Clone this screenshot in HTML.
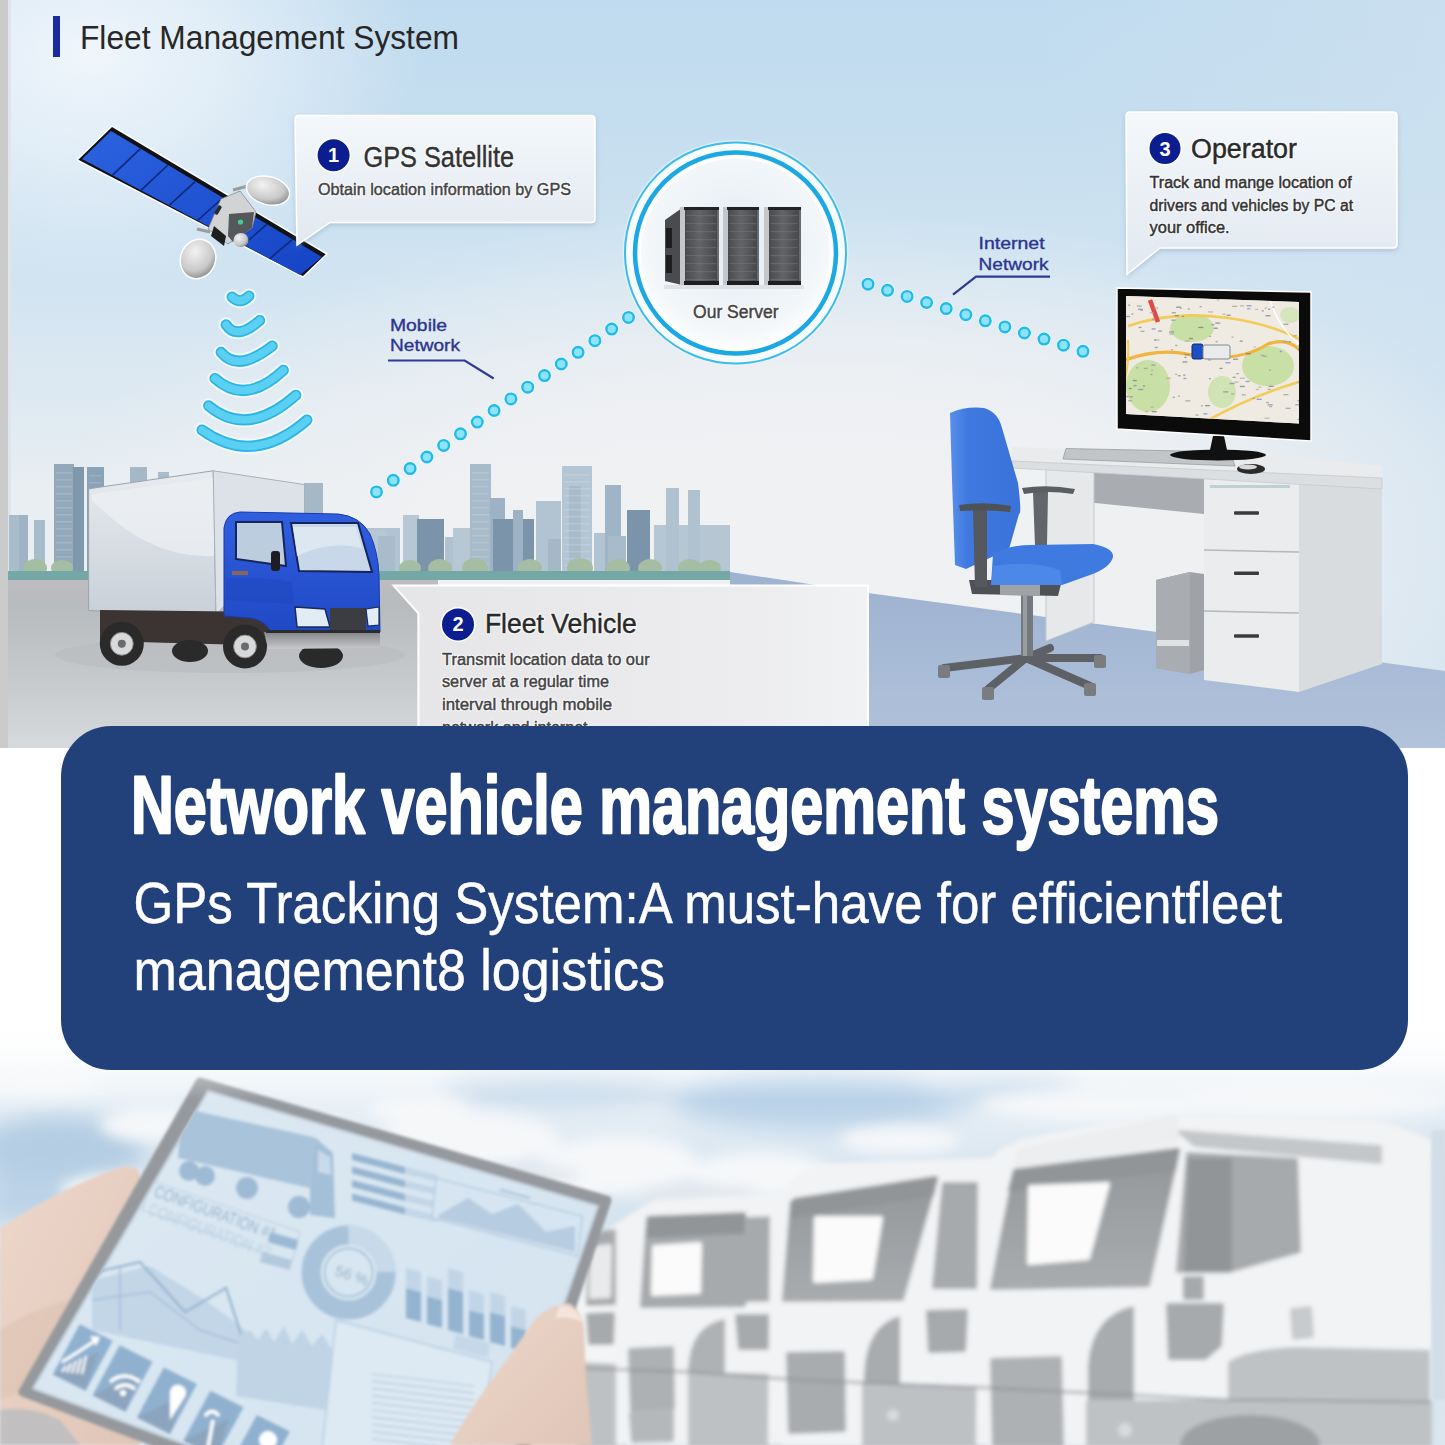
<!DOCTYPE html>
<html><head><meta charset="utf-8"><title>Network vehicle management systems</title>
<style>
html,body{margin:0;padding:0}
body{width:1445px;height:1445px;position:relative;overflow:hidden;background:#fff;font-family:"Liberation Sans",sans-serif}
svg text{font-family:"Liberation Sans",sans-serif}
.abs{position:absolute}
#top{left:0;top:0;width:1445px;height:748px;overflow:hidden;
 background:radial-gradient(ellipse 330px 230px at 90px 55px,rgba(242,247,252,0.95) 0%,rgba(242,247,252,0.6) 45%,rgba(242,247,252,0) 100%),
 radial-gradient(ellipse 760px 330px at 800px 540px,rgba(240,241,243,1) 0%,rgba(240,241,243,0.85) 50%,rgba(240,241,243,0) 100%),
 linear-gradient(90deg,rgba(205,225,240,0) 72%,rgba(205,225,240,0.75) 100%),
 linear-gradient(180deg,#c0dbef 0%,#c4ddef 15%,#cfe3f1 35%,#dde9f2 52%,#e8eef2 65%,#edf0f2 100%)}
</style></head><body>
<div id="bot"><svg class="abs" style="left:0;top:1000px" width="1445" height="445" viewBox="0 1000 1445 445">
<defs>
<linearGradient id="gSky" x1="0" y1="0" x2="0" y2="1"><stop offset="0" stop-color="#ffffff"/><stop offset="0.15" stop-color="#f3f7fa"/><stop offset="0.35" stop-color="#dbe7f1"/><stop offset="0.6" stop-color="#d3e2ee"/><stop offset="1" stop-color="#dce6ee"/></linearGradient>
<linearGradient id="gFade" x1="0" y1="0" x2="0" y2="1"><stop offset="0" stop-color="#ffffff" stop-opacity="1"/><stop offset="0.3" stop-color="#ffffff" stop-opacity="0.95"/><stop offset="0.65" stop-color="#ffffff" stop-opacity="0.45"/><stop offset="1" stop-color="#ffffff" stop-opacity="0"/></linearGradient>
<filter id="b6" x="-30%" y="-30%" width="160%" height="160%"><feGaussianBlur stdDeviation="7"/></filter>
<filter id="b12" x="-30%" y="-30%" width="160%" height="160%"><feGaussianBlur stdDeviation="12"/></filter>
<filter id="b2" x="-10%" y="-10%" width="120%" height="120%"><feGaussianBlur stdDeviation="1.4"/></filter>
<filter id="b3" x="-10%" y="-10%" width="120%" height="120%"><feGaussianBlur stdDeviation="2.2"/></filter>
<linearGradient id="gSkin" x1="0" y1="0" x2="1" y2="1"><stop offset="0" stop-color="#edd7cb"/><stop offset="1" stop-color="#dfc5b6"/></linearGradient>
<linearGradient id="gScreen" x1="0" y1="0" x2="1" y2="1"><stop offset="0" stop-color="#dde9f3"/><stop offset="1" stop-color="#d2e2ef"/></linearGradient>
<linearGradient id="gWind" x1="0" y1="0" x2="0" y2="1"><stop offset="0" stop-color="#94979a"/><stop offset="1" stop-color="#a9acaf"/></linearGradient>
</defs>
<rect x="0" y="1000" width="1445" height="445" fill="url(#gSky)"/>
<g filter="url(#b12)">
<ellipse cx="60" cy="1150" rx="85" ry="35" fill="#b4cde3"/>
<ellipse cx="30" cy="1200" rx="50" ry="25" fill="#bcd3e7"/>
<ellipse cx="230" cy="1160" rx="50" ry="25" fill="#c8dbeb"/>
<ellipse cx="560" cy="1090" rx="120" ry="16" fill="#c6d9ea"/>
<ellipse cx="820" cy="1100" rx="150" ry="30" fill="#bad2e8"/>
<ellipse cx="1000" cy="1090" rx="80" ry="15" fill="#c9dcec"/>
<ellipse cx="1440" cy="1220" rx="16" ry="90" fill="#c9d8e5"/>
</g>
<g filter="url(#b6)" fill="#f5f7f9">
<ellipse cx="40" cy="1085" rx="60" ry="14"/>
<ellipse cx="150" cy="1125" rx="50" ry="16"/>
<ellipse cx="120" cy="1190" rx="60" ry="16"/>
<ellipse cx="40" cy="1240" rx="40" ry="14"/>
<ellipse cx="300" cy="1140" rx="60" ry="22"/>
<ellipse cx="470" cy="1140" rx="90" ry="28"/>
<ellipse cx="620" cy="1165" rx="80" ry="30"/>
<ellipse cx="760" cy="1175" rx="70" ry="24"/>
<ellipse cx="540" cy="1200" rx="60" ry="20"/>
<ellipse cx="900" cy="1140" rx="60" ry="14"/>
<ellipse cx="1100" cy="1105" rx="120" ry="16"/>
<ellipse cx="1300" cy="1100" rx="150" ry="18"/>
<ellipse cx="420" cy="1110" rx="50" ry="16"/>
</g>
<g filter="url(#b6)" fill="#e3e8ed">
<ellipse cx="520" cy="1175" rx="60" ry="10"/>
<ellipse cx="700" cy="1195" rx="60" ry="10"/>
<ellipse cx="250" cy="1170" rx="40" ry="10"/>
</g>
<g filter="url(#b3)">
<polygon points="572,1248 600,1232 640,1214 655,1203 809,1196 818,1166 1010,1159 1020,1150 1100,1128 1175,1116 1380,1121 1432,1140 1432,1445 572,1445" fill="#f3f4f5"/>
<polygon points="590,1238 606,1232 641,1230 641,1302 588,1304" fill="#a7aaad" stroke="#a7aaad" stroke-width="4" stroke-linejoin="round"/>
<polygon points="592,1248 610,1246 609,1296 591,1297" fill="#e9eaeb" stroke="#e9eaeb" stroke-width="4" stroke-linejoin="round"/>
<polygon points="588,1315 613,1314 612,1343 590,1343" fill="#a7aaad" stroke="#a7aaad" stroke-width="4" stroke-linejoin="round"/>
<polygon points="578,1364 625,1366 625,1445 578,1445" fill="#bec1c4" stroke="#bec1c4" stroke-width="4" stroke-linejoin="round"/>
<polygon points="616,1224 640,1208 655,1200 812,1192 815,1445 616,1445" fill="#f2f3f4"/>
<polygon points="655,1203 809,1196 810,1210 651,1218" fill="#f2f3f4" stroke="#f2f3f4" stroke-width="4" stroke-linejoin="round"/>
<polygon points="648,1218 744,1214 744,1305 642,1306" fill="#a7aaad" stroke="#a7aaad" stroke-width="4" stroke-linejoin="round"/>
<polygon points="650,1218 744,1215 744,1232 648,1236" fill="#929598" stroke="#929598" stroke-width="4" stroke-linejoin="round"/>
<polygon points="654,1247 700,1244 699,1292 653,1294" fill="#fbfbfb" stroke="#fbfbfb" stroke-width="4" stroke-linejoin="round"/>
<polygon points="747,1219 806,1217 806,1299 744,1300" fill="#a7aaad" stroke="#a7aaad" stroke-width="4" stroke-linejoin="round"/>
<polygon points="737,1316 769,1316 767,1348 740,1348" fill="#a7aaad" stroke="#a7aaad" stroke-width="4" stroke-linejoin="round"/>
<polygon points="630,1350 672,1348 673,1408 632,1410" fill="#aeb1b4" stroke="#aeb1b4" stroke-width="4" stroke-linejoin="round"/>
<polygon points="631,1414 672,1412 672,1440 633,1441" fill="#b5b8bb" stroke="#b5b8bb" stroke-width="4" stroke-linejoin="round"/>
<path d="M725,1319 Q690,1325 688,1370 L688,1445 L725,1445 Z" fill="#afb2b5"/>
<polygon points="690,1374 780,1376 780,1445 690,1445" fill="#bec1c4" stroke="#bec1c4" stroke-width="4" stroke-linejoin="round"/>
<polygon points="770,1205 790,1180 818,1164 1012,1157 1014,1445 768,1445" fill="#f2f3f4"/>
<polygon points="818,1166 1010,1159 1012,1178 814,1190" fill="#f2f3f4" stroke="#f2f3f4" stroke-width="4" stroke-linejoin="round"/>
<polygon points="792,1202 936,1178 902,1299 784,1300" fill="url(#gWind)" stroke="url(#gWind)" stroke-width="4" stroke-linejoin="round"/>
<polygon points="795,1200 936,1178 932,1195 792,1216" fill="#929598" stroke="#929598" stroke-width="4" stroke-linejoin="round"/>
<polygon points="816,1218 881,1218 871,1278 815,1281" fill="#fbfbfb" stroke="#fbfbfb" stroke-width="4" stroke-linejoin="round"/>
<polygon points="944,1184 1010,1184 1010,1287 934,1287" fill="#a7aaad" stroke="#a7aaad" stroke-width="4" stroke-linejoin="round"/>
<polygon points="928,1312 966,1311 964,1350 930,1351" fill="#a7aaad" stroke="#a7aaad" stroke-width="4" stroke-linejoin="round"/>
<polygon points="788,1354 843,1353 844,1430 790,1432" fill="#a9acaf" stroke="#a9acaf" stroke-width="4" stroke-linejoin="round"/>
<path d="M900,1316 Q866,1325 864,1375 L864,1445 L900,1445 Z" fill="#a9acaf"/>
<polygon points="864,1384 982,1388 982,1445 864,1445" fill="#bec1c4" stroke="#bec1c4" stroke-width="4" stroke-linejoin="round"/>
<circle cx="893" cy="1415" r="6" fill="#d8dadc"/>
<polygon points="978,1170 1000,1150 1020,1140 1100,1124 1175,1115 1380,1120 1432,1140 1432,1445 976,1445" fill="#f2f3f4"/>
<polygon points="1020,1150 1175,1117 1178,1140 1015,1171" fill="#eceef0" stroke="#eceef0" stroke-width="4" stroke-linejoin="round"/>
<polygon points="1180,1132 1380,1147 1380,1162 1195,1145" fill="#c4c7ca" stroke="#c4c7ca" stroke-width="4" stroke-linejoin="round"/>
<polygon points="1015,1171 1178,1150 1148,1285 992,1288" fill="url(#gWind)" stroke="url(#gWind)" stroke-width="4" stroke-linejoin="round"/>
<polygon points="1015,1171 1178,1150 1174,1170 1010,1190" fill="#929598" stroke="#929598" stroke-width="4" stroke-linejoin="round"/>
<polygon points="1030,1187 1108,1184 1088,1258 1029,1263" fill="#fbfbfb" stroke="#fbfbfb" stroke-width="4" stroke-linejoin="round"/>
<polygon points="1188,1154 1296,1160 1299,1251 1228,1271 1178,1271" fill="#a7aaad" stroke="#a7aaad" stroke-width="4" stroke-linejoin="round"/>
<polygon points="1190,1160 1230,1160 1230,1270 1186,1270" fill="#929598" stroke="#929598" stroke-width="4" stroke-linejoin="round"/>
<polygon points="1185,1278 1202,1278 1202,1298 1185,1298" fill="#a7aaad" stroke="#a7aaad" stroke-width="4" stroke-linejoin="round"/>
<polygon points="1168,1305 1222,1305 1220,1345 1205,1358 1170,1358" fill="#a7aaad" stroke="#a7aaad" stroke-width="4" stroke-linejoin="round"/>
<polygon points="1292,1310 1310,1308 1312,1336 1294,1338" fill="#c8cbce" stroke="#c8cbce" stroke-width="4" stroke-linejoin="round"/>
<path d="M1228,1362 Q1250,1348 1300,1347 L1430,1350 L1430,1402 L1228,1402 Z" fill="#bfc2c5"/>
<polygon points="992,1360 1060,1358 1062,1445 994,1445" fill="#aeb1b4" stroke="#aeb1b4" stroke-width="4" stroke-linejoin="round"/>
<path d="M1134,1306 Q1092,1315 1088,1365 L1088,1445 L1134,1445 Z" fill="#a9acaf"/>
<polygon points="1088,1402 1430,1402 1430,1445 1088,1445" fill="#bfc2c5" stroke="#bfc2c5" stroke-width="4" stroke-linejoin="round"/>
<ellipse cx="1250" cy="1445" rx="70" ry="30" fill="#9ea1a4"/>
<circle cx="1125" cy="1430" r="7" fill="#d8dadc"/>
<polyline points="575,1368 690,1372 800,1380 990,1388 1230,1400 1430,1402" fill="none" stroke="#8f9295" stroke-width="2"/>
</g>
<rect x="1432" y="1130" width="13" height="270" fill="#d3dde7" filter="url(#b2)"/>
<g filter="url(#b2)">
<path d="M0,1228 Q35,1205 62,1192 Q90,1178 110,1171 Q126,1164 136,1168 Q143,1176 140,1192 L120,1300 L140,1445 L0,1445 Z" fill="url(#gSkin)"/>
<path d="M0,1410 Q30,1405 60,1420 L80,1445 L0,1445 Z" fill="#b9bcc0" opacity="0.8"/>
<path d="M0,1330 Q30,1310 70,1300 L60,1380 L0,1400 Z" fill="#dcbfae" opacity="0.5"/>
</g>
<g filter="url(#b2)">
<polygon points="200,1082 607,1200 485,1568 23,1392" fill="#95999d" stroke="#95999d" stroke-width="9" stroke-linejoin="round"/>
<polygon points="208,1091 598,1206 478,1552 33,1388.5" fill="url(#gScreen)" stroke="#c3cfdb" stroke-width="2" stroke-linejoin="round"/>
</g>
<clipPath id="scr"><polygon points="208,1091 598,1206 478,1552 33,1388.5"/></clipPath>
<g clip-path="url(#scr)"><g filter="url(#b2)">
<polygon points="182,1108 315,1137.5 310,1188 178,1158" fill="#a9c3da"/>
<polygon points="315,1137.5 333,1153 335,1218 310,1215 310,1188" fill="#a4bfd8"/>
<polygon points="318,1150 330,1157 331,1175 318,1172" fill="#c9dbea"/>
<circle cx="189" cy="1171" r="10" fill="#9fbad4"/>
<circle cx="205" cy="1176" r="10" fill="#9fbad4"/>
<circle cx="247" cy="1188" r="11" fill="#9fbad4"/>
<circle cx="299" cy="1207" r="11" fill="#9fbad4"/>
<polygon points="352,1153.0 405,1167.0 405,1174.0 352,1160.0" fill="#97b5d1"/>
<polygon points="405,1167.0 438,1175.0 438,1182.0 405,1174.0" fill="#c3d6e7"/>
<polygon points="352,1166.5 405,1180.5 405,1187.5 352,1173.5" fill="#97b5d1"/>
<polygon points="405,1180.5 438,1188.5 438,1195.5 405,1187.5" fill="#c3d6e7"/>
<polygon points="352,1180.0 405,1194.0 405,1201.0 352,1187.0" fill="#97b5d1"/>
<polygon points="405,1194.0 438,1202.0 438,1209.0 405,1201.0" fill="#c3d6e7"/>
<polygon points="352,1193.5 405,1207.5 405,1214.5 352,1200.5" fill="#97b5d1"/>
<polygon points="405,1207.5 438,1215.5 438,1222.5 405,1214.5" fill="#c3d6e7"/>
<polygon points="436,1178 582,1216 578,1256 432,1218" fill="#d6e5f1" stroke="#b5cbe0" stroke-width="1.5"/>
<polygon points="440,1214 468,1198 492,1214 518,1204 546,1232 575,1226 575,1252 438,1218" fill="#b6cce1"/>
<line x1="500" y1="1190" x2="530" y2="1198" stroke="#a6c0d8" stroke-width="2"/>
<text x="0" y="0" font-size="17" fill="#9ab4cc" transform="translate(153,1196) rotate(20) scale(0.78,1)">CONFIGURATION #1</text>
<text x="0" y="0" font-size="17" fill="#bdd0e1" transform="translate(147,1214) rotate(20) scale(0.78,1)">CONFIGURATION #2</text>
<polygon points="150,1180 300,1232 292,1262 142,1210" fill="none" stroke="#bfd1e2" stroke-width="1.2"/>
<polygon points="270,1232 298,1240 296,1250 268,1242" fill="#9bb8d4"/>
<polygon points="262,1252 292,1260 290,1270 260,1262" fill="#b3c9de"/>
<circle cx="348.6" cy="1272.4" r="37.5" fill="none" stroke="#a8c2da" stroke-width="19"/>
<path d="M348.6,1234.9 A37.5,37.5 0 0,1 386,1272" fill="none" stroke="#c8daea" stroke-width="19"/>
<circle cx="348.6" cy="1272.4" r="24" fill="none" stroke="#9fbad3" stroke-width="1.5"/>
<text x="0" y="0" font-size="15" fill="#97b2cb" transform="translate(334,1275) rotate(18)">56 %</text>
<polygon points="406,1288 421,1292 421,1322 406,1318" fill="#94b3d0"/>
<polygon points="406,1268 421,1272 421,1292 406,1288" fill="#c2d5e7"/>
<polygon points="427,1296 442,1300 442,1328 427,1324" fill="#94b3d0"/>
<polygon points="427,1276 442,1280 442,1300 427,1296" fill="#c2d5e7"/>
<polygon points="448,1288 463,1292 463,1334 448,1330" fill="#94b3d0"/>
<polygon points="448,1268 463,1272 463,1292 448,1288" fill="#c2d5e7"/>
<polygon points="469,1310 484,1314 484,1340 469,1336" fill="#94b3d0"/>
<polygon points="469,1290 484,1294 484,1314 469,1310" fill="#c2d5e7"/>
<polygon points="490,1312 505,1316 505,1346 490,1342" fill="#94b3d0"/>
<polygon points="490,1292 505,1296 505,1316 490,1312" fill="#c2d5e7"/>
<polygon points="511,1326 526,1330 526,1352 511,1348" fill="#94b3d0"/>
<polygon points="511,1306 526,1310 526,1330 511,1326" fill="#c2d5e7"/>
<polygon points="92,1280 150,1266 205,1300 252,1335 245,1362 92,1330" fill="#c2d6e8"/>
<polyline points="96,1272 140,1262 185,1312 226,1288 250,1362" fill="none" stroke="#8fadca" stroke-width="2"/>
<polyline points="92,1300 150,1292 200,1330 245,1345" fill="none" stroke="#a3bdd5" stroke-width="1.5"/>
<line x1="120" y1="1268" x2="120" y2="1330" stroke="#9fbad3" stroke-width="1.5"/>
<polygon points="238,1336 250,1330 258,1340 266,1328 274,1342 284,1326 292,1344 302,1330 312,1346 322,1334 332,1350 342,1340 338,1412 236,1396" fill="#c0d4e6"/>
<polygon points="336,1320 492,1362 480,1450 322,1450" fill="#dde9f3" stroke="#b7cce0" stroke-width="1.5"/>
<line x1="372" y1="1374.0" x2="474" y2="1386.0" stroke="#b2c8dc" stroke-width="1.2"/>
<line x1="372" y1="1381.2" x2="474" y2="1393.2" stroke="#b2c8dc" stroke-width="1.2"/>
<line x1="372" y1="1388.4" x2="474" y2="1400.4" stroke="#b2c8dc" stroke-width="1.2"/>
<line x1="372" y1="1395.6" x2="474" y2="1407.6" stroke="#b2c8dc" stroke-width="1.2"/>
<line x1="372" y1="1402.8" x2="474" y2="1414.8" stroke="#b2c8dc" stroke-width="1.2"/>
<line x1="372" y1="1410.0" x2="474" y2="1422.0" stroke="#b2c8dc" stroke-width="1.2"/>
<line x1="372" y1="1417.2" x2="474" y2="1429.2" stroke="#b2c8dc" stroke-width="1.2"/>
<line x1="372" y1="1424.4" x2="474" y2="1436.4" stroke="#b2c8dc" stroke-width="1.2"/>
<line x1="372" y1="1431.6" x2="474" y2="1443.6" stroke="#b2c8dc" stroke-width="1.2"/>
<line x1="372" y1="1438.8" x2="474" y2="1450.8" stroke="#b2c8dc" stroke-width="1.2"/>
<line x1="372" y1="1446.0" x2="474" y2="1458.0" stroke="#b2c8dc" stroke-width="1.2"/>
<polygon points="455,1334 490,1343 488,1358 453,1349" fill="#c6d8e8"/>
<polygon points="79.7,1324.3 112.7,1340.8 85.7,1390.8 52.7,1374.3" fill="#8fb0cf"/>
<polygon points="52.7,1374.3 85.7,1390.8 98.2,1352.5" fill="#8b9db2" opacity="0.6"/>
<polygon points="119.6,1345.3 152.6,1361.8 125.6,1411.8 92.6,1395.3" fill="#8fb0cf"/>
<polygon points="92.6,1395.3 125.6,1411.8 138.1,1373.5" fill="#8b9db2" opacity="0.6"/>
<polygon points="163.9,1367.5 196.9,1384.0 169.9,1434.0 136.9,1417.5" fill="#8fb0cf"/>
<polygon points="136.9,1417.5 169.9,1434.0 182.4,1395.8" fill="#8b9db2" opacity="0.6"/>
<polygon points="210.4,1390.7 243.4,1407.2 216.4,1457.2 183.4,1440.7" fill="#8fb0cf"/>
<polygon points="183.4,1440.7 216.4,1457.2 228.9,1419.0" fill="#8b9db2" opacity="0.6"/>
<polygon points="256.9,1415.0 289.9,1431.5 262.9,1481.5 229.9,1465.0" fill="#8fb0cf"/>
<polygon points="229.9,1465.0 262.9,1481.5 275.4,1443.2" fill="#8b9db2" opacity="0.6"/>
<line x1="62" y1="1372.0" x2="66" y2="1366.0" stroke="#ffffff" stroke-width="2.2"/>
<line x1="67" y1="1372.5" x2="71" y2="1363.5" stroke="#ffffff" stroke-width="2.2"/>
<line x1="72" y1="1373.0" x2="76" y2="1361.0" stroke="#ffffff" stroke-width="2.2"/>
<line x1="77" y1="1373.5" x2="81" y2="1358.5" stroke="#ffffff" stroke-width="2.2"/>
<line x1="82" y1="1374.0" x2="86" y2="1356.0" stroke="#ffffff" stroke-width="2.2"/>
<polyline points="62,1362 78,1352 96,1340" fill="none" stroke="#ffffff" stroke-width="3"/>
<path d="M90,1336 l10,1 l-4,9 z" fill="#fff"/>
<path d="M110,1382 q14,-12 30,0 M115,1389 q10,-8 20,0" fill="none" stroke="#ffffff" stroke-width="3.5"/>
<circle cx="123" cy="1393" r="3" fill="#fff"/>
<path d="M170,1392 a8,8 0 1,1 14,6 l-14,22 z" fill="#ffffff"/>
<path d="M213,1420 l-5,28 M205,1416 q7,-9 14,0" fill="none" stroke="#ffffff" stroke-width="3.5"/>
<circle cx="268" cy="1440" r="9" fill="#ffffff"/>
</g></g>
<g filter="url(#b2)">
<path d="M536,1318 Q552,1304 568,1303 Q581,1308 584,1328 L586,1380 Q590,1420 592,1445 L450,1445 Q472,1405 505,1362 Z" fill="url(#gSkin)"/>
<path d="M560,1305 Q578,1307 582,1322 Q570,1316 555,1318 Z" fill="#f3e5dc"/>
</g>
<rect x="0" y="1000" width="1445" height="100" fill="url(#gFade)"/>
</svg></div>
<div id="top" class="abs"><svg class="abs" style="left:0;top:0" width="1445" height="748" viewBox="0 0 1445 748">
<defs>
<linearGradient id="gBox" x1="0" y1="0" x2="0" y2="1"><stop offset="0" stop-color="#f4f8fb"/><stop offset="1" stop-color="#e1e8f0"/></linearGradient>
<linearGradient id="gFleet" x1="0" y1="0" x2="1" y2="0"><stop offset="0" stop-color="#e6e6e8"/><stop offset="0.7" stop-color="#ececee"/><stop offset="1" stop-color="#f1f2f4"/></linearGradient>
<radialGradient id="gSrv" cx="0.5" cy="0.45" r="0.55"><stop offset="0" stop-color="#e3ebf2"/><stop offset="0.8" stop-color="#f3f7fa"/><stop offset="1" stop-color="#ffffff"/></radialGradient>
<linearGradient id="gTower" x1="0" y1="0" x2="1" y2="0"><stop offset="0" stop-color="#3f4043"/><stop offset="0.5" stop-color="#626467"/><stop offset="1" stop-color="#434447"/></linearGradient>
<linearGradient id="gPanel" x1="0" y1="0" x2="1" y2="1"><stop offset="0" stop-color="#2c62e0"/><stop offset="1" stop-color="#1544c4"/></linearGradient>
<radialGradient id="gDish" cx="0.35" cy="0.35" r="0.7"><stop offset="0" stop-color="#f2f2f2"/><stop offset="0.7" stop-color="#c9c9c9"/><stop offset="1" stop-color="#8f8f8f"/></radialGradient>
<linearGradient id="gRoad" x1="0" y1="0" x2="0" y2="1"><stop offset="0" stop-color="#bdbbbf"/><stop offset="0.15" stop-color="#b8bbbe"/><stop offset="0.6" stop-color="#c6cacd"/><stop offset="1" stop-color="#d6dadd"/></linearGradient>
<linearGradient id="gFloor" x1="0" y1="0" x2="0" y2="1"><stop offset="0" stop-color="#9db2d1"/><stop offset="1" stop-color="#b2c3db"/></linearGradient>
<linearGradient id="gBoxSide" x1="0" y1="0" x2="0" y2="1"><stop offset="0" stop-color="#e8ebef"/><stop offset="1" stop-color="#c8d0d8"/></linearGradient>
<linearGradient id="gCab" x1="0" y1="0" x2="0" y2="1"><stop offset="0" stop-color="#2f5fe0"/><stop offset="1" stop-color="#2048c4"/></linearGradient>
<linearGradient id="gChairB" x1="0" y1="0" x2="1" y2="0"><stop offset="0" stop-color="#5a90ea"/><stop offset="0.25" stop-color="#3f79e0"/><stop offset="1" stop-color="#3a72d8"/></linearGradient>
<filter id="sh" x="-10%" y="-10%" width="120%" height="130%"><feDropShadow dx="0" dy="2" stdDeviation="2.5" flood-color="#6d8aa8" flood-opacity="0.35"/></filter>
<filter id="glow" x="-20%" y="-20%" width="140%" height="140%"><feGaussianBlur stdDeviation="1.2"/></filter>
</defs>
<rect x="0" y="0" width="8" height="748" fill="#cbcbcb"/><rect x="8" y="0" width="3" height="748" fill="#dfe5ea"/>
<rect x="53" y="16" width="7" height="41" fill="#1b2a9e"/>
<text x="80" y="49" font-size="34" fill="#272727" textLength="379" lengthAdjust="spacingAndGlyphs">Fleet Management System</text>
<rect x="9" y="515" width="10" height="57" fill="#a9bccb"/>
<rect x="19" y="515" width="9" height="57" fill="#9fb3c4"/>
<rect x="34" y="520" width="11" height="52" fill="#a9bccb"/>
<rect x="54" y="464" width="20" height="108" fill="#93a9bb"/>
<rect x="73" y="467" width="11" height="105" fill="#7f98ac"/>
<rect x="87" y="467" width="17" height="105" fill="#8aa2b6"/>
<rect x="130" y="467" width="17" height="105" fill="#a4b8c8"/>
<rect x="158" y="472" width="11" height="100" fill="#a9bccb"/>
<rect x="304" y="483" width="19" height="89" fill="#a4b8c8"/>
<rect x="365" y="528" width="35" height="44" fill="#b2c3d1"/>
<rect x="370" y="530" width="17" height="42" fill="#b6c6d3"/>
<rect x="378" y="536" width="17" height="36" fill="#a9bccb"/>
<rect x="403" y="515" width="16" height="57" fill="#b8c7d4"/>
<rect x="417" y="519" width="27" height="53" fill="#7c94a9"/>
<rect x="445" y="537" width="11" height="35" fill="#b0c1cf"/>
<rect x="453" y="528" width="17" height="44" fill="#b8c7d4"/>
<rect x="470" y="464" width="21" height="108" fill="#a8bbcb"/>
<rect x="490" y="498" width="15" height="74" fill="#9db2c4"/>
<rect x="493" y="519" width="41" height="53" fill="#7c94a9"/>
<rect x="513" y="510" width="10" height="62" fill="#9db2c4"/>
<rect x="536" y="501" width="25" height="71" fill="#b2c3d1"/>
<rect x="548" y="539" width="13" height="33" fill="#a4b8c8"/>
<rect x="562" y="466" width="30" height="106" fill="#b4c5d3"/>
<rect x="569" y="486" width="12" height="86" fill="#a8bbcb"/>
<rect x="594" y="533" width="14" height="39" fill="#b2c3d1"/>
<rect x="605" y="485" width="16" height="87" fill="#9fb4c6"/>
<rect x="608" y="536" width="18" height="36" fill="#a8bbcb"/>
<rect x="627" y="510" width="23" height="62" fill="#7c94a9"/>
<rect x="654" y="525" width="76" height="47" fill="#b6c6d3"/>
<rect x="666" y="488" width="13" height="84" fill="#b0c1cf"/>
<rect x="688" y="490" width="12" height="82" fill="#b0c1cf"/>
<rect x="472" y="472" width="17" height="1.5" fill="#ffffff" opacity="0.15"/>
<rect x="472" y="479" width="17" height="1.5" fill="#ffffff" opacity="0.15"/>
<rect x="472" y="486" width="17" height="1.5" fill="#ffffff" opacity="0.15"/>
<rect x="472" y="493" width="17" height="1.5" fill="#ffffff" opacity="0.15"/>
<rect x="472" y="500" width="17" height="1.5" fill="#ffffff" opacity="0.15"/>
<rect x="472" y="507" width="17" height="1.5" fill="#ffffff" opacity="0.15"/>
<rect x="472" y="514" width="17" height="1.5" fill="#ffffff" opacity="0.15"/>
<rect x="472" y="521" width="17" height="1.5" fill="#ffffff" opacity="0.15"/>
<rect x="472" y="528" width="17" height="1.5" fill="#ffffff" opacity="0.15"/>
<rect x="472" y="535" width="17" height="1.5" fill="#ffffff" opacity="0.15"/>
<rect x="472" y="542" width="17" height="1.5" fill="#ffffff" opacity="0.15"/>
<rect x="472" y="549" width="17" height="1.5" fill="#ffffff" opacity="0.15"/>
<rect x="472" y="556" width="17" height="1.5" fill="#ffffff" opacity="0.15"/>
<rect x="472" y="563" width="17" height="1.5" fill="#ffffff" opacity="0.15"/>
<rect x="564" y="474" width="26" height="1.5" fill="#ffffff" opacity="0.15"/>
<rect x="564" y="481" width="26" height="1.5" fill="#ffffff" opacity="0.15"/>
<rect x="564" y="488" width="26" height="1.5" fill="#ffffff" opacity="0.15"/>
<rect x="564" y="495" width="26" height="1.5" fill="#ffffff" opacity="0.15"/>
<rect x="564" y="502" width="26" height="1.5" fill="#ffffff" opacity="0.15"/>
<rect x="564" y="509" width="26" height="1.5" fill="#ffffff" opacity="0.15"/>
<rect x="564" y="516" width="26" height="1.5" fill="#ffffff" opacity="0.15"/>
<rect x="564" y="523" width="26" height="1.5" fill="#ffffff" opacity="0.15"/>
<rect x="564" y="530" width="26" height="1.5" fill="#ffffff" opacity="0.15"/>
<rect x="564" y="537" width="26" height="1.5" fill="#ffffff" opacity="0.15"/>
<rect x="564" y="544" width="26" height="1.5" fill="#ffffff" opacity="0.15"/>
<rect x="564" y="551" width="26" height="1.5" fill="#ffffff" opacity="0.15"/>
<rect x="564" y="558" width="26" height="1.5" fill="#ffffff" opacity="0.15"/>
<rect x="564" y="565" width="26" height="1.5" fill="#ffffff" opacity="0.15"/>
<rect x="56" y="472" width="16" height="1.5" fill="#ffffff" opacity="0.15"/>
<rect x="56" y="479" width="16" height="1.5" fill="#ffffff" opacity="0.15"/>
<rect x="56" y="486" width="16" height="1.5" fill="#ffffff" opacity="0.15"/>
<rect x="56" y="493" width="16" height="1.5" fill="#ffffff" opacity="0.15"/>
<rect x="56" y="500" width="16" height="1.5" fill="#ffffff" opacity="0.15"/>
<rect x="56" y="507" width="16" height="1.5" fill="#ffffff" opacity="0.15"/>
<rect x="56" y="514" width="16" height="1.5" fill="#ffffff" opacity="0.15"/>
<rect x="56" y="521" width="16" height="1.5" fill="#ffffff" opacity="0.15"/>
<rect x="56" y="528" width="16" height="1.5" fill="#ffffff" opacity="0.15"/>
<rect x="56" y="535" width="16" height="1.5" fill="#ffffff" opacity="0.15"/>
<rect x="56" y="542" width="16" height="1.5" fill="#ffffff" opacity="0.15"/>
<rect x="56" y="549" width="16" height="1.5" fill="#ffffff" opacity="0.15"/>
<rect x="56" y="556" width="16" height="1.5" fill="#ffffff" opacity="0.15"/>
<rect x="56" y="563" width="16" height="1.5" fill="#ffffff" opacity="0.15"/>
<rect x="89" y="475" width="13" height="1.5" fill="#ffffff" opacity="0.15"/>
<rect x="89" y="482" width="13" height="1.5" fill="#ffffff" opacity="0.15"/>
<rect x="89" y="489" width="13" height="1.5" fill="#ffffff" opacity="0.15"/>
<rect x="89" y="496" width="13" height="1.5" fill="#ffffff" opacity="0.15"/>
<rect x="89" y="503" width="13" height="1.5" fill="#ffffff" opacity="0.15"/>
<rect x="89" y="510" width="13" height="1.5" fill="#ffffff" opacity="0.15"/>
<rect x="89" y="517" width="13" height="1.5" fill="#ffffff" opacity="0.15"/>
<rect x="89" y="524" width="13" height="1.5" fill="#ffffff" opacity="0.15"/>
<rect x="89" y="531" width="13" height="1.5" fill="#ffffff" opacity="0.15"/>
<rect x="89" y="538" width="13" height="1.5" fill="#ffffff" opacity="0.15"/>
<rect x="89" y="545" width="13" height="1.5" fill="#ffffff" opacity="0.15"/>
<rect x="89" y="552" width="13" height="1.5" fill="#ffffff" opacity="0.15"/>
<rect x="89" y="559" width="13" height="1.5" fill="#ffffff" opacity="0.15"/>
<ellipse cx="35" cy="568" rx="12" ry="9" fill="#a5bda3"/>
<ellipse cx="62" cy="568" rx="11" ry="8" fill="#a5bda3"/>
<ellipse cx="120" cy="568" rx="12" ry="9" fill="#a5bda3"/>
<ellipse cx="410" cy="568" rx="11" ry="8" fill="#a5bda3"/>
<ellipse cx="440" cy="568" rx="12" ry="9" fill="#a5bda3"/>
<ellipse cx="475" cy="568" rx="13" ry="10" fill="#a5bda3"/>
<ellipse cx="530" cy="568" rx="12" ry="9" fill="#a5bda3"/>
<ellipse cx="580" cy="568" rx="13" ry="10" fill="#a5bda3"/>
<ellipse cx="618" cy="568" rx="12" ry="9" fill="#a5bda3"/>
<ellipse cx="650" cy="568" rx="12" ry="9" fill="#a5bda3"/>
<ellipse cx="690" cy="568" rx="12" ry="9" fill="#a5bda3"/>
<ellipse cx="710" cy="568" rx="11" ry="8" fill="#a5bda3"/>
<rect x="8" y="571" width="722" height="9" fill="#74a8a7"/>
<rect x="8" y="580" width="430" height="168" fill="url(#gRoad)"/>
<polygon points="730,572 868,593 1445,671 1445,748 730,748" fill="url(#gFloor)"/>
<path d="M232,297 Q240.5,305 249,296" fill="none" stroke="#f4fbff" stroke-width="15" stroke-linecap="round" opacity="0.85"/>
<path d="M232,297 Q240.5,305 249,296" fill="none" stroke="#2eb3e4" stroke-width="11" stroke-linecap="round"/>
<path d="M232,297 Q240.5,305 249,296" fill="none" stroke="#5ad0f3" stroke-width="7.5" stroke-linecap="round"/>
<path d="M226.1,324.8 Q236.7,340.8 259.7,320.5" fill="none" stroke="#f4fbff" stroke-width="15" stroke-linecap="round" opacity="0.85"/>
<path d="M226.1,324.8 Q236.7,340.8 259.7,320.5" fill="none" stroke="#2eb3e4" stroke-width="11" stroke-linecap="round"/>
<path d="M226.1,324.8 Q236.7,340.8 259.7,320.5" fill="none" stroke="#5ad0f3" stroke-width="7.5" stroke-linecap="round"/>
<path d="M221.1,352.3 Q238,372.8 272.2,346" fill="none" stroke="#f4fbff" stroke-width="15" stroke-linecap="round" opacity="0.85"/>
<path d="M221.1,352.3 Q238,372.8 272.2,346" fill="none" stroke="#2eb3e4" stroke-width="11" stroke-linecap="round"/>
<path d="M221.1,352.3 Q238,372.8 272.2,346" fill="none" stroke="#5ad0f3" stroke-width="7.5" stroke-linecap="round"/>
<path d="M214.9,378.4 Q245.4,406 283.4,370.3" fill="none" stroke="#f4fbff" stroke-width="15" stroke-linecap="round" opacity="0.85"/>
<path d="M214.9,378.4 Q245.4,406 283.4,370.3" fill="none" stroke="#2eb3e4" stroke-width="11" stroke-linecap="round"/>
<path d="M214.9,378.4 Q245.4,406 283.4,370.3" fill="none" stroke="#5ad0f3" stroke-width="7.5" stroke-linecap="round"/>
<path d="M208.6,405.8 Q247.4,438.5 295.9,395.2" fill="none" stroke="#f4fbff" stroke-width="15" stroke-linecap="round" opacity="0.85"/>
<path d="M208.6,405.8 Q247.4,438.5 295.9,395.2" fill="none" stroke="#2eb3e4" stroke-width="11" stroke-linecap="round"/>
<path d="M208.6,405.8 Q247.4,438.5 295.9,395.2" fill="none" stroke="#5ad0f3" stroke-width="7.5" stroke-linecap="round"/>
<path d="M202,430 Q253.5,467 307,420" fill="none" stroke="#f4fbff" stroke-width="15" stroke-linecap="round" opacity="0.85"/>
<path d="M202,430 Q253.5,467 307,420" fill="none" stroke="#2eb3e4" stroke-width="11" stroke-linecap="round"/>
<path d="M202,430 Q253.5,467 307,420" fill="none" stroke="#5ad0f3" stroke-width="7.5" stroke-linecap="round"/>
<circle cx="376.5" cy="491.9" r="7.2" fill="#f2fbff" opacity="0.9"/>
<circle cx="376.5" cy="491.9" r="5.3" fill="#8de3f7" stroke="#22bbe8" stroke-width="2.4"/>
<circle cx="393.3" cy="480.3" r="7.2" fill="#f2fbff" opacity="0.9"/>
<circle cx="393.3" cy="480.3" r="5.3" fill="#8de3f7" stroke="#22bbe8" stroke-width="2.4"/>
<circle cx="410.1" cy="468.6" r="7.2" fill="#f2fbff" opacity="0.9"/>
<circle cx="410.1" cy="468.6" r="5.3" fill="#8de3f7" stroke="#22bbe8" stroke-width="2.4"/>
<circle cx="426.9" cy="457.0" r="7.2" fill="#f2fbff" opacity="0.9"/>
<circle cx="426.9" cy="457.0" r="5.3" fill="#8de3f7" stroke="#22bbe8" stroke-width="2.4"/>
<circle cx="443.7" cy="445.4" r="7.2" fill="#f2fbff" opacity="0.9"/>
<circle cx="443.7" cy="445.4" r="5.3" fill="#8de3f7" stroke="#22bbe8" stroke-width="2.4"/>
<circle cx="460.5" cy="433.8" r="7.2" fill="#f2fbff" opacity="0.9"/>
<circle cx="460.5" cy="433.8" r="5.3" fill="#8de3f7" stroke="#22bbe8" stroke-width="2.4"/>
<circle cx="477.3" cy="422.1" r="7.2" fill="#f2fbff" opacity="0.9"/>
<circle cx="477.3" cy="422.1" r="5.3" fill="#8de3f7" stroke="#22bbe8" stroke-width="2.4"/>
<circle cx="494.1" cy="410.5" r="7.2" fill="#f2fbff" opacity="0.9"/>
<circle cx="494.1" cy="410.5" r="5.3" fill="#8de3f7" stroke="#22bbe8" stroke-width="2.4"/>
<circle cx="510.9" cy="398.9" r="7.2" fill="#f2fbff" opacity="0.9"/>
<circle cx="510.9" cy="398.9" r="5.3" fill="#8de3f7" stroke="#22bbe8" stroke-width="2.4"/>
<circle cx="527.7" cy="387.2" r="7.2" fill="#f2fbff" opacity="0.9"/>
<circle cx="527.7" cy="387.2" r="5.3" fill="#8de3f7" stroke="#22bbe8" stroke-width="2.4"/>
<circle cx="544.5" cy="375.6" r="7.2" fill="#f2fbff" opacity="0.9"/>
<circle cx="544.5" cy="375.6" r="5.3" fill="#8de3f7" stroke="#22bbe8" stroke-width="2.4"/>
<circle cx="561.3" cy="364.0" r="7.2" fill="#f2fbff" opacity="0.9"/>
<circle cx="561.3" cy="364.0" r="5.3" fill="#8de3f7" stroke="#22bbe8" stroke-width="2.4"/>
<circle cx="578.1" cy="352.3" r="7.2" fill="#f2fbff" opacity="0.9"/>
<circle cx="578.1" cy="352.3" r="5.3" fill="#8de3f7" stroke="#22bbe8" stroke-width="2.4"/>
<circle cx="594.9" cy="340.7" r="7.2" fill="#f2fbff" opacity="0.9"/>
<circle cx="594.9" cy="340.7" r="5.3" fill="#8de3f7" stroke="#22bbe8" stroke-width="2.4"/>
<circle cx="611.7" cy="329.1" r="7.2" fill="#f2fbff" opacity="0.9"/>
<circle cx="611.7" cy="329.1" r="5.3" fill="#8de3f7" stroke="#22bbe8" stroke-width="2.4"/>
<circle cx="628.5" cy="317.4" r="7.2" fill="#f2fbff" opacity="0.9"/>
<circle cx="628.5" cy="317.4" r="5.3" fill="#8de3f7" stroke="#22bbe8" stroke-width="2.4"/>
<circle cx="868.0" cy="284.2" r="7.2" fill="#f2fbff" opacity="0.9"/>
<circle cx="868.0" cy="284.2" r="5.3" fill="#8de3f7" stroke="#22bbe8" stroke-width="2.4"/>
<circle cx="887.5" cy="290.3" r="7.2" fill="#f2fbff" opacity="0.9"/>
<circle cx="887.5" cy="290.3" r="5.3" fill="#8de3f7" stroke="#22bbe8" stroke-width="2.4"/>
<circle cx="907.1" cy="296.4" r="7.2" fill="#f2fbff" opacity="0.9"/>
<circle cx="907.1" cy="296.4" r="5.3" fill="#8de3f7" stroke="#22bbe8" stroke-width="2.4"/>
<circle cx="926.6" cy="302.5" r="7.2" fill="#f2fbff" opacity="0.9"/>
<circle cx="926.6" cy="302.5" r="5.3" fill="#8de3f7" stroke="#22bbe8" stroke-width="2.4"/>
<circle cx="946.2" cy="308.6" r="7.2" fill="#f2fbff" opacity="0.9"/>
<circle cx="946.2" cy="308.6" r="5.3" fill="#8de3f7" stroke="#22bbe8" stroke-width="2.4"/>
<circle cx="965.8" cy="314.7" r="7.2" fill="#f2fbff" opacity="0.9"/>
<circle cx="965.8" cy="314.7" r="5.3" fill="#8de3f7" stroke="#22bbe8" stroke-width="2.4"/>
<circle cx="985.3" cy="320.8" r="7.2" fill="#f2fbff" opacity="0.9"/>
<circle cx="985.3" cy="320.8" r="5.3" fill="#8de3f7" stroke="#22bbe8" stroke-width="2.4"/>
<circle cx="1004.9" cy="326.9" r="7.2" fill="#f2fbff" opacity="0.9"/>
<circle cx="1004.9" cy="326.9" r="5.3" fill="#8de3f7" stroke="#22bbe8" stroke-width="2.4"/>
<circle cx="1024.4" cy="333.0" r="7.2" fill="#f2fbff" opacity="0.9"/>
<circle cx="1024.4" cy="333.0" r="5.3" fill="#8de3f7" stroke="#22bbe8" stroke-width="2.4"/>
<circle cx="1044.0" cy="339.1" r="7.2" fill="#f2fbff" opacity="0.9"/>
<circle cx="1044.0" cy="339.1" r="5.3" fill="#8de3f7" stroke="#22bbe8" stroke-width="2.4"/>
<circle cx="1063.5" cy="345.2" r="7.2" fill="#f2fbff" opacity="0.9"/>
<circle cx="1063.5" cy="345.2" r="5.3" fill="#8de3f7" stroke="#22bbe8" stroke-width="2.4"/>
<circle cx="1083.0" cy="351.3" r="7.2" fill="#f2fbff" opacity="0.9"/>
<circle cx="1083.0" cy="351.3" r="5.3" fill="#8de3f7" stroke="#22bbe8" stroke-width="2.4"/>
<text x="390" y="331" font-size="17" fill="#2b3590" stroke="#2b3590" stroke-width="0.35" textLength="57" lengthAdjust="spacingAndGlyphs">Mobile</text>
<text x="390" y="351.4" font-size="17" fill="#2b3590" stroke="#2b3590" stroke-width="0.35" textLength="70" lengthAdjust="spacingAndGlyphs">Network</text>
<polyline points="388,360.5 464.7,360.5 493.7,378.5" fill="none" stroke="#2f3a94" stroke-width="2.2"/>
<text x="978.6" y="248.8" font-size="17" fill="#2b3590" stroke="#2b3590" stroke-width="0.35" textLength="66" lengthAdjust="spacingAndGlyphs">Internet</text>
<text x="978.6" y="269.5" font-size="17" fill="#2b3590" stroke="#2b3590" stroke-width="0.35" textLength="70" lengthAdjust="spacingAndGlyphs">Network</text>
<polyline points="1050,276.7 976,276.7 953,294.7" fill="none" stroke="#2f3a94" stroke-width="2.2"/>
<circle cx="735.5" cy="253" r="113" fill="#eaf6fc" opacity="0.6"/>
<circle cx="735.5" cy="253" r="110.5" fill="#f7fcfe" stroke="#3dbbea" stroke-width="2"/>
<circle cx="735.5" cy="253" r="100.5" fill="url(#gSrv)" stroke="#1ba8e3" stroke-width="4.5"/>
<circle cx="735.5" cy="253" r="96" fill="none" stroke="#ffffff" stroke-width="3"/>
<polygon points="665,220 682,208 682,285 665,281" fill="#4a4b4e"/>
<rect x="666" y="228" width="6" height="20" fill="#1e1e20"/><rect x="666" y="255" width="6" height="18" fill="#1e1e20"/>
<rect x="680" y="207" width="39" height="78" rx="1.5" fill="url(#gTower)"/>
<rect x="680" y="207" width="5" height="78" fill="#c4c6c9"/>
<rect x="717" y="207" width="2" height="78" fill="#6a6b6e"/>
<rect x="686" y="215" width="30" height="1.2" fill="#7a7c80" opacity="0.45"/>
<rect x="686" y="223" width="30" height="1.2" fill="#7a7c80" opacity="0.45"/>
<rect x="686" y="231" width="30" height="1.2" fill="#7a7c80" opacity="0.45"/>
<rect x="686" y="239" width="30" height="1.2" fill="#7a7c80" opacity="0.45"/>
<rect x="686" y="247" width="30" height="1.2" fill="#7a7c80" opacity="0.45"/>
<rect x="686" y="255" width="30" height="1.2" fill="#7a7c80" opacity="0.45"/>
<rect x="686" y="263" width="30" height="1.2" fill="#7a7c80" opacity="0.45"/>
<rect x="686" y="271" width="30" height="1.2" fill="#7a7c80" opacity="0.45"/>
<rect x="686" y="279" width="30" height="1.2" fill="#7a7c80" opacity="0.45"/>
<rect x="723" y="207" width="36" height="78" rx="1.5" fill="url(#gTower)"/>
<rect x="723" y="207" width="5" height="78" fill="#c4c6c9"/>
<rect x="757" y="207" width="2" height="78" fill="#6a6b6e"/>
<rect x="729" y="215" width="27" height="1.2" fill="#7a7c80" opacity="0.45"/>
<rect x="729" y="223" width="27" height="1.2" fill="#7a7c80" opacity="0.45"/>
<rect x="729" y="231" width="27" height="1.2" fill="#7a7c80" opacity="0.45"/>
<rect x="729" y="239" width="27" height="1.2" fill="#7a7c80" opacity="0.45"/>
<rect x="729" y="247" width="27" height="1.2" fill="#7a7c80" opacity="0.45"/>
<rect x="729" y="255" width="27" height="1.2" fill="#7a7c80" opacity="0.45"/>
<rect x="729" y="263" width="27" height="1.2" fill="#7a7c80" opacity="0.45"/>
<rect x="729" y="271" width="27" height="1.2" fill="#7a7c80" opacity="0.45"/>
<rect x="729" y="279" width="27" height="1.2" fill="#7a7c80" opacity="0.45"/>
<rect x="764" y="207" width="37" height="78" rx="1.5" fill="url(#gTower)"/>
<rect x="764" y="207" width="5" height="78" fill="#c4c6c9"/>
<rect x="799" y="207" width="2" height="78" fill="#6a6b6e"/>
<rect x="770" y="215" width="28" height="1.2" fill="#7a7c80" opacity="0.45"/>
<rect x="770" y="223" width="28" height="1.2" fill="#7a7c80" opacity="0.45"/>
<rect x="770" y="231" width="28" height="1.2" fill="#7a7c80" opacity="0.45"/>
<rect x="770" y="239" width="28" height="1.2" fill="#7a7c80" opacity="0.45"/>
<rect x="770" y="247" width="28" height="1.2" fill="#7a7c80" opacity="0.45"/>
<rect x="770" y="255" width="28" height="1.2" fill="#7a7c80" opacity="0.45"/>
<rect x="770" y="263" width="28" height="1.2" fill="#7a7c80" opacity="0.45"/>
<rect x="770" y="271" width="28" height="1.2" fill="#7a7c80" opacity="0.45"/>
<rect x="770" y="279" width="28" height="1.2" fill="#7a7c80" opacity="0.45"/>
<rect x="664" y="285" width="140" height="4" fill="#d9dde1" opacity="0.8"/>
<rect x="684" y="207" width="35" height="3" fill="#222"/>
<rect x="684" y="281" width="35" height="4" fill="#1e1e1f"/>
<rect x="727" y="207" width="32" height="3" fill="#222"/>
<rect x="727" y="281" width="32" height="4" fill="#1e1e1f"/>
<rect x="768" y="207" width="33" height="3" fill="#222"/>
<rect x="768" y="281" width="33" height="4" fill="#1e1e1f"/>
<text stroke="#ffffff" stroke-width="2.6" stroke-linejoin="round" opacity="0.9" x="693" y="318" font-size="18" fill="#444" textLength="85.7" lengthAdjust="spacingAndGlyphs">Our Server</text>
<text stroke="#444" stroke-width="0.45" x="693" y="318" font-size="18" fill="#444" textLength="85.7" lengthAdjust="spacingAndGlyphs">Our Server</text>
<polygon points="112,126 327,254 303,277 77,160" fill="#101216" stroke="#ffffff" stroke-width="1.5" stroke-linejoin="round"/>
<polygon points="111,131 322,257 300,275 82,159" fill="url(#gPanel)"/>
<line x1="140.5" y1="148.6" x2="112.5" y2="175.2" stroke="#0d2a7a" stroke-width="1.6"/>
<line x1="168.0" y1="165.0" x2="140.9" y2="190.3" stroke="#0d2a7a" stroke-width="1.6"/>
<line x1="195.4" y1="181.4" x2="169.2" y2="205.4" stroke="#0d2a7a" stroke-width="1.6"/>
<line x1="222.8" y1="197.8" x2="197.5" y2="220.5" stroke="#0d2a7a" stroke-width="1.6"/>
<line x1="267.1" y1="224.2" x2="243.3" y2="244.8" stroke="#0d2a7a" stroke-width="1.6"/>
<line x1="292.5" y1="239.4" x2="269.5" y2="258.8" stroke="#0d2a7a" stroke-width="1.6"/>
<polygon points="221,199 240,191 256,212 252,228 228,244 208,229" fill="#d2d3d4" stroke="#8a8c8e" stroke-width="0.8"/>
<polygon points="229,214 254,212 252,228 233,242 228,236" fill="#55585b"/>
<polygon points="214,226 226,236 224,246 211,236" fill="#1e1f21"/>
<rect x="216" y="205" width="4" height="10" rx="1.5" fill="#2a2b2d" transform="rotate(30 218 210)"/>
<circle cx="240.5" cy="222" r="2.6" fill="#3fcf8a"/>
<line x1="233" y1="190" x2="248" y2="186" stroke="#9a9c9e" stroke-width="3"/>
<line x1="197" y1="229" x2="210" y2="232" stroke="#9a9c9e" stroke-width="3"/>
<g transform="rotate(15 268 190.6)"><ellipse cx="268" cy="190.6" rx="22" ry="14" fill="url(#gDish)" stroke="#ffffff" stroke-width="1.5"/></g>
<g transform="rotate(20 198 259)"><ellipse cx="198" cy="259" rx="17.5" ry="20" fill="url(#gDish)" stroke="#ffffff" stroke-width="1.5"/></g>
<ellipse cx="241" cy="240" rx="7.5" ry="7" fill="url(#gDish)"/>
<path d="M295,119.5 Q295,115.5 299,115.5 H591 Q595,115.5 595,119.5 V218.5 Q595,222.5 591,222.5 H330 L297,245 Z" fill="url(#gBox)" stroke="#ffffff" stroke-width="1.5" filter="url(#sh)"/>
<circle cx="333.6" cy="155.3" r="17.5" fill="#ffffff"/>
<circle cx="333.6" cy="155.3" r="16" fill="#0c1d8f"/>
<text x="333.6" y="162.3" font-size="20" font-weight="bold" fill="#ffffff" text-anchor="middle">1</text>
<text stroke="#ffffff" stroke-width="2.6" stroke-linejoin="round" opacity="0.9" x="363.5" y="167" font-size="30" fill="#333" textLength="150.5" lengthAdjust="spacingAndGlyphs">GPS Satellite</text>
<text stroke="#333" stroke-width="0.45" x="363.5" y="167" font-size="30" fill="#333" textLength="150.5" lengthAdjust="spacingAndGlyphs">GPS Satellite</text>
<text stroke="#ffffff" stroke-width="2.6" stroke-linejoin="round" opacity="0.9" x="318" y="195" font-size="16.5" fill="#444" textLength="253" lengthAdjust="spacingAndGlyphs">Obtain location information by GPS</text>
<text stroke="#444" stroke-width="0.45" x="318" y="195" font-size="16.5" fill="#444" textLength="253" lengthAdjust="spacingAndGlyphs">Obtain location information by GPS</text>
<path d="M1126,116 Q1126,112 1130,112 H1393 Q1397,112 1397,116 V244 Q1397,248 1393,248 H1160 L1127,274.4 Z" fill="url(#gBox)" stroke="#ffffff" stroke-width="1.5" filter="url(#sh)"/>
<circle cx="1165" cy="148.5" r="17.0" fill="#ffffff"/>
<circle cx="1165" cy="148.5" r="15.5" fill="#0c1d8f"/>
<text x="1165" y="155.5" font-size="20" font-weight="bold" fill="#ffffff" text-anchor="middle">3</text>
<text stroke="#ffffff" stroke-width="2.6" stroke-linejoin="round" opacity="0.9" x="1191" y="158" font-size="27" fill="#2a2a2a" textLength="106" lengthAdjust="spacingAndGlyphs">Operator</text>
<text stroke="#2a2a2a" stroke-width="0.45" x="1191" y="158" font-size="27" fill="#2a2a2a" textLength="106" lengthAdjust="spacingAndGlyphs">Operator</text>
<text stroke="#ffffff" stroke-width="2.4" stroke-linejoin="round" opacity="0.9" x="1149.6" y="188.2" font-size="16" fill="#333" textLength="202" lengthAdjust="spacingAndGlyphs">Track and mange location of</text>
<text stroke="#333" stroke-width="0.45" x="1149.6" y="188.2" font-size="16" fill="#333" textLength="202" lengthAdjust="spacingAndGlyphs">Track and mange location of</text>
<text stroke="#ffffff" stroke-width="2.4" stroke-linejoin="round" opacity="0.9" x="1149.6" y="210.6" font-size="16" fill="#333" textLength="203.5" lengthAdjust="spacingAndGlyphs">drivers and vehicles by PC at</text>
<text stroke="#333" stroke-width="0.45" x="1149.6" y="210.6" font-size="16" fill="#333" textLength="203.5" lengthAdjust="spacingAndGlyphs">drivers and vehicles by PC at</text>
<text stroke="#ffffff" stroke-width="2.4" stroke-linejoin="round" opacity="0.9" x="1149.6" y="233.0" font-size="16" fill="#333" textLength="80" lengthAdjust="spacingAndGlyphs">your office.</text>
<text stroke="#333" stroke-width="0.45" x="1149.6" y="233.0" font-size="16" fill="#333" textLength="80" lengthAdjust="spacingAndGlyphs">your office.</text>
<ellipse cx="230" cy="655" rx="175" ry="18" fill="#b9bbbe" opacity="0.6"/>
<polygon points="88.6,488.8 213.2,470.8 216,614.7 88.6,610.6" fill="url(#gBoxSide)" stroke="#9aa3ad" stroke-width="1"/>
<path d="M92,500 Q150,560 214,556 L214,478 L92,494 Z" fill="#eef1f4" opacity="0.7"/>
<polygon points="213.2,470.8 304.5,484.6 304.5,520 216,614.7" fill="#dde2e8" stroke="#a8b0b8" stroke-width="1"/>
<polygon points="100,610 280,612 280,646 100,641" fill="#3b3432"/>
<ellipse cx="190" cy="651" rx="18" ry="11" fill="#2a2a2b"/>
<ellipse cx="321" cy="656" rx="22" ry="12" fill="#2a2a2b"/>
<circle cx="121.8" cy="643.8" r="22" fill="#2a2a2b"/>
<circle cx="121.8" cy="643.8" r="11.4" fill="#d8d9db" stroke="#888" stroke-width="1"/>
<circle cx="121.8" cy="643.8" r="4.0" fill="#6a6b6d"/>
<circle cx="245" cy="646.5" r="22" fill="#2a2a2b"/>
<circle cx="245" cy="646.5" r="11.4" fill="#d8d9db" stroke="#888" stroke-width="1"/>
<circle cx="245" cy="646.5" r="4.0" fill="#6a6b6d"/>
<path d="M224,616 L224,528 Q226,513 240,512 L338,514 Q360,516 370,534 Q378,552 379,575 L380,632 L272,634 Q266,620 250,618 Q236,617 224,616 Z" fill="url(#gCab)" stroke="#1a3aa8" stroke-width="1"/>
<path d="M226,578 Q260,576 292,582 L294,604 L226,600 Z" fill="#1c43b6" opacity="0.35"/>
<polygon points="236,522 282,522 286,566 236,559" fill="#bccde0" stroke="#15245a" stroke-width="2"/>
<polygon points="291,523 358,523 372,572 299,571" fill="#c9d8e8" stroke="#15245a" stroke-width="2"/>
<path d="M293,527 L356,527 L362,548 Q330,540 297,556 Z" fill="#e2ebf4" opacity="0.8"/>
<rect x="271" y="551" width="9" height="20" rx="3" fill="#1d1d22"/>
<rect x="232" y="571" width="16" height="4" fill="#b07020" opacity="0.7"/>
<path d="M295,607 L325,609 L330,627 L297,627 Z" fill="#e2ecf4" stroke="#1a2a5a" stroke-width="1.5"/>
<rect x="330" y="608" width="36" height="22" fill="#3c3d42"/>
<path d="M366,609 L379,607 L379,625 L368,626 Z" fill="#e2ecf4" stroke="#1a2a5a" stroke-width="1.2"/>
<linearGradient id="gBump" x1="0" y1="0" x2="0" y2="1"><stop offset="0" stop-color="#7c7e81"/><stop offset="1" stop-color="#c6c8ca"/></linearGradient>
<path d="M264,632 L380,630 L380,648 L268,649 Z" fill="url(#gBump)"/>
<rect x="266" y="630" width="114" height="3" fill="#2c2c2e"/>
<path d="M393.5,585.6 H868 V748 H418.4 V613.3 Z" fill="url(#gFleet)" stroke="#ffffff" stroke-width="2"/>
<circle cx="458" cy="624.4" r="17.5" fill="#ffffff"/>
<circle cx="458" cy="624.4" r="16" fill="#0c1d8f"/>
<text x="458" y="631.4" font-size="20" font-weight="bold" fill="#ffffff" text-anchor="middle">2</text>
<text stroke="#ffffff" stroke-width="2.6" stroke-linejoin="round" opacity="0.9" x="484.9" y="632.7" font-size="27" fill="#2a2a2a" textLength="152" lengthAdjust="spacingAndGlyphs">Fleet Vehicle</text>
<text stroke="#2a2a2a" stroke-width="0.45" x="484.9" y="632.7" font-size="27" fill="#2a2a2a" textLength="152" lengthAdjust="spacingAndGlyphs">Fleet Vehicle</text>
<text stroke="#ffffff" stroke-width="2.4" stroke-linejoin="round" opacity="0.9" x="442" y="664.5" font-size="16" fill="#444" textLength="207.6" lengthAdjust="spacingAndGlyphs">Transmit location data to our</text>
<text stroke="#444" stroke-width="0.45" x="442" y="664.5" font-size="16" fill="#444" textLength="207.6" lengthAdjust="spacingAndGlyphs">Transmit location data to our</text>
<text stroke="#ffffff" stroke-width="2.4" stroke-linejoin="round" opacity="0.9" x="442" y="687.2" font-size="16" fill="#444" textLength="167" lengthAdjust="spacingAndGlyphs">server at a regular time</text>
<text stroke="#444" stroke-width="0.45" x="442" y="687.2" font-size="16" fill="#444" textLength="167" lengthAdjust="spacingAndGlyphs">server at a regular time</text>
<text stroke="#ffffff" stroke-width="2.4" stroke-linejoin="round" opacity="0.9" x="442" y="709.9" font-size="16" fill="#444" textLength="170" lengthAdjust="spacingAndGlyphs">interval through mobile</text>
<text stroke="#444" stroke-width="0.45" x="442" y="709.9" font-size="16" fill="#444" textLength="170" lengthAdjust="spacingAndGlyphs">interval through mobile</text>
<text stroke="#ffffff" stroke-width="2.4" stroke-linejoin="round" opacity="0.9" x="442" y="732.6" font-size="16" fill="#444" textLength="150" lengthAdjust="spacingAndGlyphs">network and internet.</text>
<text stroke="#444" stroke-width="0.45" x="442" y="732.6" font-size="16" fill="#444" textLength="150" lengthAdjust="spacingAndGlyphs">network and internet.</text>
<polygon points="1094,470 1204,476 1204,625 1094,612" fill="#eef0f2"/>
<polygon points="1046,466 1204,476 1204,514 1046,498" fill="#a9adb1"/>
<polygon points="1046,466 1094,468 1094,622 1046,641" fill="#e6e8ea" stroke="#c5c9cd" stroke-width="1"/>
<polygon points="1156,580 1190,572 1204,574 1204,670 1190,674 1156,668" fill="#9fa3a7"/>
<polygon points="1156,580 1190,572 1190,674 1156,668" fill="#a9adb1"/>
<rect x="1157" y="640" width="32" height="6" fill="#dfe1e3"/>
<polygon points="1299,484 1382,488 1382,664 1299,692" fill="#d9dcdf"/>
<polygon points="1204,476 1299,480 1299,692 1204,680" fill="#ebecee"/>
<line x1="1204" y1="550" x2="1299" y2="552" stroke="#b4b8bc" stroke-width="1.5"/>
<line x1="1204" y1="611" x2="1299" y2="613" stroke="#b4b8bc" stroke-width="1.5"/>
<rect x="1234" y="511.29999999999995" width="25" height="3.5" rx="1" fill="#3a3b3d"/>
<rect x="1234" y="571.5" width="25" height="3.5" rx="1" fill="#3a3b3d"/>
<rect x="1234" y="634.2" width="25" height="3.5" rx="1" fill="#3a3b3d"/>
<rect x="1210" y="485" width="80" height="3" fill="#9fc0c0" opacity="0.6"/>
<polygon points="1012,447 1290,456 1382,466 1382,478 1012,461" fill="#e9ebed"/>
<polygon points="1012,461 1382,478 1382,489 1012,468" fill="#dcdfe2" stroke="#c5c9cd" stroke-width="0.8"/>
<polygon points="1066,448.5 1230,452 1235,466 1063,459" fill="#c2c5c8" stroke="#9a9da0" stroke-width="0.8"/>
<ellipse cx="1251" cy="469" rx="14" ry="5" fill="#2a2b2d"/><ellipse cx="1248" cy="467" rx="9" ry="2.5" fill="#d8d8d8"/>
<polygon points="1213,436 1224,436 1227,450 1210,450" fill="#111"/>
<ellipse cx="1218" cy="455" rx="48" ry="5.5" fill="#111"/>
<polygon points="1117,288 1311,292 1311,441 1117,429" fill="#0b0b0c" stroke="#ffffff" stroke-width="1.5"/>
<polygon points="1126,296 1299,302 1299,423.6 1126,414" fill="#ece8dc"/>
<clipPath id="mapc"><polygon points="1126,296 1299,302 1299,423.6 1126,414"/></clipPath>
<g clip-path="url(#mapc)">
<rect x="1120" y="290" width="190" height="140" fill="#efebe3"/>
<ellipse cx="1192" cy="328" rx="22" ry="14" fill="#c8dfa6"/>
<ellipse cx="1148" cy="386" rx="22" ry="26" fill="#c8dfa6"/>
<ellipse cx="1268" cy="366" rx="26" ry="20" fill="#c8dfa6"/>
<ellipse cx="1222" cy="392" rx="14" ry="16" fill="#d0e3b4"/>
<ellipse cx="1290" cy="315" rx="10" ry="8" fill="#d5e6bd"/>
<path d="M1120,362 Q1160,346 1195,356 Q1240,362 1268,344 Q1290,336 1305,356" fill="none" stroke="#efb53e" stroke-width="3.2"/>
<path d="M1128,326 Q1175,310 1228,318 Q1272,324 1305,342" fill="none" stroke="#f2cb58" stroke-width="2.6"/>
<path d="M1205,422 Q1250,396 1305,380" fill="none" stroke="#f2cb58" stroke-width="2.6"/>
<path d="M1120,395 Q1130,370 1128,340" fill="none" stroke="#f2cb58" stroke-width="2"/>
<path d="M1270,300 Q1280,330 1300,345" fill="none" stroke="#ffffff" stroke-width="1.5"/>
<path d="M1150,300 L1158,322" stroke="#e34848" stroke-width="4.5"/>
<rect x="1182.0" y="315.7" width="2" height="1.3" fill="#8a8a8a" opacity="0.75"/>
<rect x="1268.1" y="308.7" width="2" height="1.3" fill="#7a7a7a" opacity="0.75"/>
<rect x="1283.4" y="323.6" width="5" height="1.3" fill="#8a8a8a" opacity="0.75"/>
<rect x="1198.3" y="326.8" width="5" height="1.3" fill="#7a7a7a" opacity="0.75"/>
<rect x="1136.2" y="367.1" width="2" height="1.3" fill="#9a9a9a" opacity="0.75"/>
<rect x="1225.8" y="346.2" width="2" height="1.3" fill="#9a9a9a" opacity="0.75"/>
<rect x="1222.3" y="313.5" width="3" height="1.3" fill="#b0a8a0" opacity="0.75"/>
<rect x="1219.5" y="367.8" width="3" height="1.3" fill="#7a7a7a" opacity="0.75"/>
<rect x="1143.8" y="367.8" width="4" height="1.3" fill="#9a9a9a" opacity="0.75"/>
<rect x="1142.9" y="385.3" width="2" height="1.3" fill="#7a7a7a" opacity="0.75"/>
<rect x="1233.1" y="358.6" width="5" height="1.3" fill="#7a7a7a" opacity="0.75"/>
<rect x="1260.5" y="354.7" width="4" height="1.3" fill="#b0a8a0" opacity="0.75"/>
<rect x="1177.9" y="395.5" width="2" height="1.3" fill="#9a9a9a" opacity="0.75"/>
<rect x="1225.4" y="362.1" width="5" height="1.3" fill="#6f88c8" opacity="0.75"/>
<rect x="1175.8" y="418.5" width="5" height="1.3" fill="#8a8a8a" opacity="0.75"/>
<rect x="1154.5" y="339.4" width="5" height="1.3" fill="#b0a8a0" opacity="0.75"/>
<rect x="1132.8" y="379.9" width="4" height="1.3" fill="#7a7a7a" opacity="0.75"/>
<rect x="1184.8" y="340.4" width="5" height="1.3" fill="#b0a8a0" opacity="0.75"/>
<rect x="1137.9" y="308.6" width="5" height="1.3" fill="#6f88c8" opacity="0.75"/>
<rect x="1246.6" y="305.1" width="5" height="1.3" fill="#6f88c8" opacity="0.75"/>
<rect x="1175.2" y="344.8" width="2" height="1.3" fill="#6f88c8" opacity="0.75"/>
<rect x="1288.7" y="341.1" width="2" height="1.3" fill="#7a7a7a" opacity="0.75"/>
<rect x="1211.4" y="324.1" width="3" height="1.3" fill="#6f88c8" opacity="0.75"/>
<rect x="1253.7" y="346.3" width="2" height="1.3" fill="#b0a8a0" opacity="0.75"/>
<rect x="1154.8" y="346.8" width="3" height="1.3" fill="#6f88c8" opacity="0.75"/>
<rect x="1267.7" y="404.1" width="5" height="1.3" fill="#6f88c8" opacity="0.75"/>
<rect x="1296.7" y="381.7" width="3" height="1.3" fill="#b0a8a0" opacity="0.75"/>
<rect x="1152.1" y="318.9" width="3" height="1.3" fill="#9a9a9a" opacity="0.75"/>
<rect x="1128.1" y="400.1" width="4" height="1.3" fill="#9a9a9a" opacity="0.75"/>
<rect x="1174.8" y="315.1" width="4" height="1.3" fill="#7a7a7a" opacity="0.75"/>
<rect x="1231.5" y="336.5" width="2" height="1.3" fill="#9a9a9a" opacity="0.75"/>
<rect x="1205.0" y="405.0" width="5" height="1.3" fill="#7a7a7a" opacity="0.75"/>
<rect x="1194.9" y="345.9" width="5" height="1.3" fill="#b0a8a0" opacity="0.75"/>
<rect x="1136.8" y="305.4" width="5" height="1.3" fill="#9a9a9a" opacity="0.75"/>
<rect x="1154.1" y="339.2" width="2" height="1.3" fill="#8a8a8a" opacity="0.75"/>
<rect x="1126.0" y="315.8" width="4" height="1.3" fill="#8a8a8a" opacity="0.75"/>
<rect x="1232.2" y="305.7" width="5" height="1.3" fill="#9a9a9a" opacity="0.75"/>
<rect x="1151.7" y="328.3" width="4" height="1.3" fill="#6f88c8" opacity="0.75"/>
<rect x="1208.0" y="311.3" width="5" height="1.3" fill="#b0a8a0" opacity="0.75"/>
<rect x="1209.1" y="335.7" width="2" height="1.3" fill="#9a9a9a" opacity="0.75"/>
<rect x="1255.7" y="388.8" width="3" height="1.3" fill="#b0a8a0" opacity="0.75"/>
<rect x="1215.3" y="322.4" width="4" height="1.3" fill="#7a7a7a" opacity="0.75"/>
<rect x="1151.4" y="364.4" width="4" height="1.3" fill="#8a8a8a" opacity="0.75"/>
<rect x="1295.3" y="404.1" width="4" height="1.3" fill="#6f88c8" opacity="0.75"/>
<rect x="1283.1" y="341.1" width="4" height="1.3" fill="#9a9a9a" opacity="0.75"/>
<rect x="1236.1" y="373.0" width="3" height="1.3" fill="#9a9a9a" opacity="0.75"/>
<rect x="1267.6" y="388.7" width="3" height="1.3" fill="#9a9a9a" opacity="0.75"/>
<rect x="1215.6" y="341.1" width="2" height="1.3" fill="#8a8a8a" opacity="0.75"/>
<rect x="1262.7" y="355.6" width="4" height="1.3" fill="#9a9a9a" opacity="0.75"/>
<rect x="1203.4" y="413.2" width="4" height="1.3" fill="#6f88c8" opacity="0.75"/>
<rect x="1139.9" y="309.7" width="3" height="1.3" fill="#b0a8a0" opacity="0.75"/>
<rect x="1184.4" y="356.8" width="2" height="1.3" fill="#7a7a7a" opacity="0.75"/>
<rect x="1208.9" y="378.0" width="2" height="1.3" fill="#8a8a8a" opacity="0.75"/>
<rect x="1283.4" y="394.0" width="5" height="1.3" fill="#9a9a9a" opacity="0.75"/>
<rect x="1279.8" y="350.8" width="2" height="1.3" fill="#6f88c8" opacity="0.75"/>
<rect x="1264.5" y="417.5" width="5" height="1.3" fill="#b0a8a0" opacity="0.75"/>
<rect x="1195.4" y="414.4" width="3" height="1.3" fill="#9a9a9a" opacity="0.75"/>
<rect x="1297.8" y="300.4" width="5" height="1.3" fill="#7a7a7a" opacity="0.75"/>
<rect x="1265.5" y="315.1" width="5" height="1.3" fill="#7a7a7a" opacity="0.75"/>
<rect x="1239.7" y="340.5" width="3" height="1.3" fill="#7a7a7a" opacity="0.75"/>
<rect x="1129.7" y="396.1" width="3" height="1.3" fill="#8a8a8a" opacity="0.75"/>
<rect x="1201.0" y="405.1" width="2" height="1.3" fill="#9a9a9a" opacity="0.75"/>
<rect x="1169.6" y="333.3" width="4" height="1.3" fill="#9a9a9a" opacity="0.75"/>
<rect x="1170.9" y="349.0" width="2" height="1.3" fill="#9a9a9a" opacity="0.75"/>
<rect x="1283.4" y="340.9" width="5" height="1.3" fill="#b0a8a0" opacity="0.75"/>
<rect x="1269.1" y="405.9" width="3" height="1.3" fill="#9a9a9a" opacity="0.75"/>
<rect x="1216.6" y="299.3" width="3" height="1.3" fill="#b0a8a0" opacity="0.75"/>
<rect x="1231.3" y="393.2" width="3" height="1.3" fill="#9a9a9a" opacity="0.75"/>
<rect x="1150.5" y="373.8" width="2" height="1.3" fill="#8a8a8a" opacity="0.75"/>
<rect x="1182.4" y="361.3" width="5" height="1.3" fill="#7a7a7a" opacity="0.75"/>
<rect x="1261.7" y="310.2" width="2" height="1.3" fill="#7a7a7a" opacity="0.75"/>
<rect x="1169.0" y="331.3" width="5" height="1.3" fill="#8a8a8a" opacity="0.75"/>
<rect x="1223.2" y="391.2" width="5" height="1.3" fill="#8a8a8a" opacity="0.75"/>
<rect x="1182.3" y="417.7" width="3" height="1.3" fill="#7a7a7a" opacity="0.75"/>
<rect x="1245.8" y="353.1" width="5" height="1.3" fill="#7a7a7a" opacity="0.75"/>
<rect x="1213.8" y="327.7" width="4" height="1.3" fill="#7a7a7a" opacity="0.75"/>
<rect x="1285.6" y="407.7" width="5" height="1.3" fill="#9a9a9a" opacity="0.75"/>
<rect x="1149.7" y="312.1" width="4" height="1.3" fill="#b0a8a0" opacity="0.75"/>
<rect x="1138.6" y="326.8" width="3" height="1.3" fill="#8a8a8a" opacity="0.75"/>
<rect x="1241.8" y="394.2" width="4" height="1.3" fill="#9a9a9a" opacity="0.75"/>
<rect x="1150.7" y="406.5" width="3" height="1.3" fill="#b0a8a0" opacity="0.75"/>
<rect x="1255.2" y="308.7" width="3" height="1.3" fill="#b0a8a0" opacity="0.75"/>
<rect x="1297.2" y="400.2" width="5" height="1.3" fill="#9a9a9a" opacity="0.75"/>
<rect x="1298.0" y="347.1" width="3" height="1.3" fill="#b0a8a0" opacity="0.75"/>
<rect x="1187.7" y="308.4" width="2" height="1.3" fill="#6f88c8" opacity="0.75"/>
<rect x="1184.5" y="353.9" width="5" height="1.3" fill="#8a8a8a" opacity="0.75"/>
<rect x="1183.3" y="374.4" width="2" height="1.3" fill="#7a7a7a" opacity="0.75"/>
<rect x="1145.5" y="410.9" width="2" height="1.3" fill="#9a9a9a" opacity="0.75"/>
<rect x="1140.5" y="330.7" width="4" height="1.3" fill="#9a9a9a" opacity="0.75"/>
<rect x="1256.7" y="398.7" width="5" height="1.3" fill="#6f88c8" opacity="0.75"/>
<rect x="1151.8" y="411.0" width="5" height="1.3" fill="#7a7a7a" opacity="0.75"/>
<rect x="1247.2" y="308.1" width="3" height="1.3" fill="#8a8a8a" opacity="0.75"/>
<rect x="1199.6" y="306.0" width="2" height="1.3" fill="#8a8a8a" opacity="0.75"/>
<rect x="1264.7" y="307.4" width="2" height="1.3" fill="#9a9a9a" opacity="0.75"/>
<rect x="1171.8" y="312.1" width="4" height="1.3" fill="#8a8a8a" opacity="0.75"/>
<rect x="1298.0" y="348.8" width="3" height="1.3" fill="#6f88c8" opacity="0.75"/>
<rect x="1133.5" y="385.0" width="3" height="1.3" fill="#8a8a8a" opacity="0.75"/>
<rect x="1171.3" y="319.5" width="4" height="1.3" fill="#6f88c8" opacity="0.75"/>
<rect x="1217.9" y="322.5" width="3" height="1.3" fill="#b0a8a0" opacity="0.75"/>
<rect x="1172.8" y="396.7" width="2" height="1.3" fill="#6f88c8" opacity="0.75"/>
<rect x="1128.7" y="387.9" width="3" height="1.3" fill="#7a7a7a" opacity="0.75"/>
<rect x="1215.0" y="327.5" width="2" height="1.3" fill="#b0a8a0" opacity="0.75"/>
<rect x="1239.9" y="377.6" width="5" height="1.3" fill="#b0a8a0" opacity="0.75"/>
<rect x="1293.9" y="335.2" width="3" height="1.3" fill="#9a9a9a" opacity="0.75"/>
<rect x="1185.3" y="400.2" width="5" height="1.3" fill="#9a9a9a" opacity="0.75"/>
<rect x="1297.2" y="418.8" width="2" height="1.3" fill="#9a9a9a" opacity="0.75"/>
<rect x="1138.2" y="388.9" width="5" height="1.3" fill="#6f88c8" opacity="0.75"/>
<rect x="1154.2" y="307.5" width="4" height="1.3" fill="#b0a8a0" opacity="0.75"/>
<rect x="1229.6" y="382.9" width="5" height="1.3" fill="#8a8a8a" opacity="0.75"/>
<rect x="1158.1" y="330.4" width="4" height="1.3" fill="#8a8a8a" opacity="0.75"/>
<rect x="1189.0" y="337.8" width="4" height="1.3" fill="#7a7a7a" opacity="0.75"/>
<rect x="1168.3" y="416.7" width="3" height="1.3" fill="#6f88c8" opacity="0.75"/>
<rect x="1187.7" y="297.1" width="2" height="1.3" fill="#b0a8a0" opacity="0.75"/>
<rect x="1208.1" y="359.3" width="3" height="1.3" fill="#9a9a9a" opacity="0.75"/>
<rect x="1213.3" y="297.6" width="2" height="1.3" fill="#6f88c8" opacity="0.75"/>
<rect x="1150.9" y="369.8" width="2" height="1.3" fill="#b0a8a0" opacity="0.75"/>
<rect x="1177.8" y="375.1" width="3" height="1.3" fill="#8a8a8a" opacity="0.75"/>
<rect x="1239.8" y="385.8" width="5" height="1.3" fill="#7a7a7a" opacity="0.75"/>
<rect x="1258.2" y="386.4" width="3" height="1.3" fill="#b0a8a0" opacity="0.75"/>
<rect x="1175.2" y="373.7" width="2" height="1.3" fill="#9a9a9a" opacity="0.75"/>
<rect x="1268.7" y="385.7" width="5" height="1.3" fill="#7a7a7a" opacity="0.75"/>
<rect x="1253.0" y="397.7" width="2" height="1.3" fill="#9a9a9a" opacity="0.75"/>
<rect x="1269.0" y="369.4" width="2" height="1.3" fill="#9a9a9a" opacity="0.75"/>
<rect x="1131.4" y="313.5" width="2" height="1.3" fill="#6f88c8" opacity="0.75"/>
<rect x="1191.2" y="353.0" width="2" height="1.3" fill="#8a8a8a" opacity="0.75"/>
<rect x="1234.3" y="381.4" width="4" height="1.3" fill="#b0a8a0" opacity="0.75"/>
<rect x="1126.6" y="395.9" width="2" height="1.3" fill="#7a7a7a" opacity="0.75"/>
<rect x="1240.1" y="305.2" width="4" height="1.3" fill="#b0a8a0" opacity="0.75"/>
<rect x="1266.0" y="401.9" width="3" height="1.3" fill="#9a9a9a" opacity="0.75"/>
<rect x="1165.9" y="377.6" width="5" height="1.3" fill="#b0a8a0" opacity="0.75"/>
<rect x="1272.3" y="306.5" width="2" height="1.3" fill="#6f88c8" opacity="0.75"/>
<rect x="1232.7" y="376.7" width="3" height="1.3" fill="#8a8a8a" opacity="0.75"/>
<rect x="1183.4" y="377.8" width="3" height="1.3" fill="#6f88c8" opacity="0.75"/>
<rect x="1128.2" y="304.5" width="2" height="1.3" fill="#6f88c8" opacity="0.75"/>
<rect x="1245.7" y="380.8" width="4" height="1.3" fill="#6f88c8" opacity="0.75"/>
<rect x="1206.4" y="354.8" width="3" height="1.3" fill="#8a8a8a" opacity="0.75"/>
<rect x="1179.9" y="307.6" width="2" height="1.3" fill="#b0a8a0" opacity="0.75"/>
<rect x="1176.1" y="306.5" width="5" height="1.3" fill="#7a7a7a" opacity="0.75"/>
<rect x="1298.0" y="345.0" width="2" height="1.3" fill="#9a9a9a" opacity="0.75"/>
<rect x="1226.6" y="314.6" width="4" height="1.3" fill="#7a7a7a" opacity="0.75"/>
<rect x="1192" y="344" width="11" height="15" rx="2" fill="#1d4fc4" stroke="#0b2a80"/>
<rect x="1203" y="345" width="27" height="14" rx="2" fill="#e8eaec" stroke="#888"/>
</g>
<g stroke="#5d6064" stroke-width="8" stroke-linecap="round"><line x1="1026" y1="658" x2="944" y2="668"/><line x1="1026" y1="658" x2="988" y2="689"/><line x1="1026" y1="658" x2="1090" y2="686"/><line x1="1026" y1="658" x2="1100" y2="658"/><line x1="1026" y1="658" x2="1050" y2="648"/></g>
<rect x="938" y="665" width="12" height="13" rx="2" fill="#7a7d80"/>
<rect x="982" y="687" width="12" height="13" rx="2" fill="#7a7d80"/>
<rect x="1084" y="683" width="12" height="13" rx="2" fill="#7a7d80"/>
<rect x="1094" y="655" width="12" height="13" rx="2" fill="#7a7d80"/>
<rect x="1021" y="594" width="12" height="62" fill="#75787c"/><rect x="1023" y="594" width="4" height="62" fill="#9a9da0"/>
<polygon points="969,580 1062,580 1058,596 972,594" fill="#4e5155"/>
<polygon points="1000,583 1040,583 1040,596 1000,595" fill="#9fa2a6"/>
<path d="M950,413 Q966,406 984,408 Q998,412 1002,428 L1018,483 Q1022,514 1019,514 L1009,549 L966,569 L955,565 L952,480 Z" fill="url(#gChairB)"/>
<polygon points="1033,492 1048,492 1047,545 1035,545" fill="#626569"/>
<path d="M1022,488 Q1048,484 1075,489 L1073,494 Q1048,490 1024,494 Z" fill="#5a5d61"/>
<path d="M993,554 Q1010,545 1030,545 L1093,544 Q1114,548 1113,557 Q1110,568 1090,575 L1062,585 L991,585 Z" fill="#3f7ae0"/>
<path d="M993,566 Q1030,560 1060,570 L1062,585 L991,585 Z" fill="#4d88e8"/>
<polygon points="973,510 987,510 987,587 975,587" fill="#55585c"/>
<path d="M959,505 Q985,501 1011,506 L1010,512 Q985,509 960,511 Z" fill="#4e5155"/>
</svg></div>
<svg class="abs" style="left:0;top:0" width="1445" height="1445" viewBox="0 0 1445 1445">
<rect x="61" y="726" width="1347" height="344" rx="50" ry="50" fill="#22407a"/>
<text x="131" y="832.8" font-size="81" font-weight="bold" fill="#ffffff" stroke="#ffffff" stroke-width="2.4" stroke-linejoin="round" textLength="1088" lengthAdjust="spacingAndGlyphs">Network vehicle management systems</text>
<text x="133.6" y="923.3" font-size="57" fill="#ffffff" stroke="#ffffff" stroke-width="0.5" textLength="1148.5" lengthAdjust="spacingAndGlyphs">GPs Tracking System:A must-have for efficientfleet</text>
<text x="133.6" y="990.4" font-size="57" fill="#ffffff" stroke="#ffffff" stroke-width="0.5" textLength="531.5" lengthAdjust="spacingAndGlyphs">management8 logistics</text>
</svg>
</body></html>
